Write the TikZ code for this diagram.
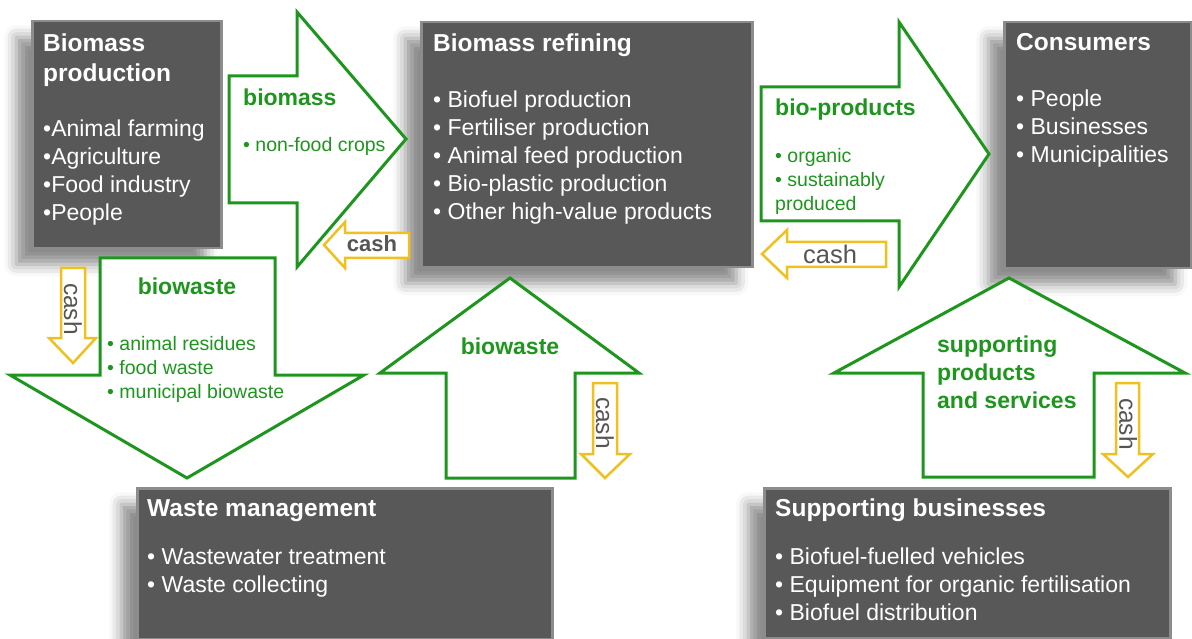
\documentclass[tikz,border=0pt]{standalone}
\usepackage{fontspec}
\setmainfont{Liberation Sans}
\usetikzlibrary{positioning,calc,shadows.blur}

\definecolor{panel}{RGB}{88,88,88}
\definecolor{panelrim}{RGB}{140,140,140}
\definecolor{flowgreen}{RGB}{30,150,30}
\definecolor{cashyellow}{RGB}{240,192,30}
\definecolor{cashgrey}{RGB}{85,85,85}

\begin{document}
\begin{tikzpicture}[x=1pt, y=-1pt,
    sector/.style={rectangle, draw=panelrim, line width=2.5pt, fill=panel, anchor=north west, blur shadow={shadow xshift=-16pt, shadow yshift=-16pt, shadow blur radius=12pt, shadow opacity=45}},
    head/.style={anchor=north west, inner sep=0pt, align=left, text=white, font=\fontsize{24.5}{30}\selectfont\bfseries},
    entry/.style={anchor=north west, inner sep=0pt, align=left, text=white, font=\fontsize{23}{28}\selectfont},
    flow/.style={draw=flowgreen, line width=3pt, fill=white, line join=miter},
    flowhead/.style={inner sep=0pt, align=left, text=flowgreen, font=\fontsize{23}{28}\selectfont\bfseries},
    flowitem/.style={anchor=north west, inner sep=0pt, align=left, text=flowgreen, font=\fontsize{19.5}{24}\selectfont},
    cash/.style={draw=cashyellow, line width=2.5pt, fill=white, line join=miter},
    cashtext/.style={inner sep=0pt, text=cashgrey, font=\fontsize{24.5}{28}\selectfont}
]
\useasboundingbox (0,0) rectangle (1192,639);

% Sector boxes
\node (prod) [sector, minimum width=189pt, minimum height=227pt] at (31,20) {};
\node (refine) [sector, minimum width=331pt, minimum height=245pt] at (420,21) {};
\node (cons) [sector, minimum width=187pt, minimum height=246pt] at (1003,21) {};
\node (waste) [sector, minimum width=415pt, minimum height=151pt] at (136,487) {};
\node (support) [sector, minimum width=406pt, minimum height=150pt] at (763,487) {};

% Box texts
\node (prodhead) [head] at ([shift={(12,14)}]prod.north west) {Biomass\\production};
\node (prodlist) [entry] at ([shift={(12,100)}]prod.north west) {•Animal farming\\•Agriculture\\•Food industry\\•People};

\node (refinehead) [head] at ([shift={(13,13)}]refine.north west) {Biomass refining};
\node (refinelist) [entry] at ([shift={(13,70)}]refine.north west) {• Biofuel production\\• Fertiliser production\\• Animal feed production\\• Bio-plastic production\\• Other high-value products};

\node (conshead) [head] at ([shift={(13,12)}]cons.north west) {Consumers};
\node (conslist) [entry] at ([shift={(13,69)}]cons.north west) {• People\\• Businesses\\• Municipalities};

\node (wastehead) [head] at ([shift={(11,12)}]waste.north west) {Waste management};
\node (wastelist) [entry] at ([shift={(11,61)}]waste.north west) {• Wastewater treatment\\• Waste collecting};

\node (supporthead) [head] at ([shift={(12,12)}]support.north west) {Supporting businesses};
\node (supportlist) [entry] at ([shift={(12,61)}]support.north west) {• Biofuel-fuelled vehicles\\• Equipment for organic fertilisation\\• Biofuel distribution};

% Green flows
\draw[flow] (229,76) -- (297,76) -- (297,12) -- (406,139) -- (297,267) -- (297,203) -- (229,203) -- cycle;
\draw[flow] (761,87) -- (899,87) -- (899,22) -- (989,154) -- (899,287) -- (899,221) -- (761,221) -- cycle;
\draw[flow] (100,258) -- (275,258) -- (275,375) -- (364,375) -- (187,478) -- (10,375) -- (100,375) -- cycle;
\draw[flow] (446,478) -- (446,373) -- (380,373) -- (510,278) -- (639,373) -- (575,373) -- (575,478) -- cycle;
\draw[flow] (923,477) -- (923,373) -- (834,373) -- (1009,278) -- (1185,373) -- (1094,373) -- (1094,477) -- cycle;

% Flow labels
\node (massflow) [flowhead, anchor=north west] at (243,89) {biomass};
\node (massitems) [flowitem] at (243,137) {• non-food crops};
\node (prodflow) [flowhead, anchor=north west] at (775,99) {bio-products};
\node (proditems) [flowitem] at (775,148) {• organic\\• sustainably\\produced};
\node (wasteflow) [flowhead, anchor=north] at (187,278) {biowaste};
\node (wasteitems) [flowitem] at (107,336) {• animal residues\\• food waste\\• municipal biowaste};
\node (returnflow) [flowhead, anchor=north] at (510,338) {biowaste};
\node (supportflow) [flowhead, anchor=north west] at (937,336) {supporting\\products\\and services};

% Cash flows
\draw[cash] (409,233) -- (345,233) -- (345,222) -- (324,245) -- (345,268) -- (345,258) -- (409,258) -- cycle;
\draw[cash] (886,242) -- (787,242) -- (787,230) -- (762,254) -- (787,278) -- (787,267) -- (886,267) -- cycle;
\draw[cash] (61,268) -- (85,268) -- (85,338) -- (96,338) -- (73,363) -- (49,338) -- (61,338) -- cycle;
\draw[cash] (593,383) -- (617,383) -- (617,454) -- (630,454) -- (605,478) -- (581,454) -- (593,454) -- cycle;
\draw[cash] (1116,383) -- (1139,383) -- (1139,454) -- (1153,454) -- (1128,477) -- (1103,454) -- (1116,454) -- cycle;

\node (cashmass) [cashtext, font=\fontsize{22}{26}\selectfont\bfseries] at (372,244) {cash};
\node (cashprod) [cashtext, font=\fontsize{25.5}{28}\selectfont] at (830,254) {cash};
\node (cashwaste) [cashtext, rotate=-90] at (73,309) {cash};
\node (cashrefine) [cashtext, rotate=-90] at (605,423) {cash};
\node (cashsupport) [cashtext, rotate=-90] at (1128,424) {cash};

\end{tikzpicture}
\end{document}
